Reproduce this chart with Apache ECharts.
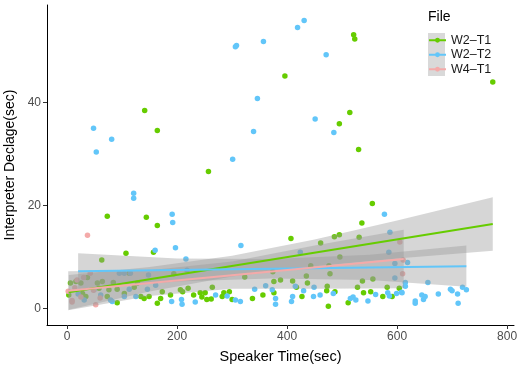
<!DOCTYPE html>
<html>
<head>
<meta charset="utf-8">
<script src="https://cdn.jsdelivr.net/npm/echarts@6/dist/echarts.min.js"></script>
<style>
  html, body { margin: 0; padding: 0; background: #fff; }
  #chart { width: 518px; height: 367px; }
</style>
</head>
<body>
<div id="chart"></div>
<script>
// scatter points [speaker time, interpreter declage]
const W2T1 = [
  [3,2.6],[6,4.9],[16,5.2],[25,4.9],[28,2.9],[34,2.3],[37,6.0],[55,4.9],[58,3.9],[63,9.4],
  [64,5.2],[73,17.9],[73,2.3],[76,3.6],[84,5.0],[91,3.7],[91,1.1],[104,2.9],[107,10.7],[113,6.8],
  [122,4.1],[128,4.9],[134,2.3],[140,1.9],[141,38.5],[144,17.7],[149,2.3],[157,10.9],[164,34.6],[164,16.1],
  [164,1.0],[170,1.9],[173,3.2],[188,2.6],[194,6.7],[206,3.6],[210,3.2],[220,3.9],[230,2.6],[242,3.0],
  [245,2.2],[251,3.0],[254,1.7],[257,26.6],[262,1.8],[264,4.1],[282,2.3],[285,3.0],[295,3.2],[300,1.7],
  [323,6.1],[337,1.9],[356,2.6],[374,7.1],[376,5.2],[376,3.0],[388,5.5],[396,45.2],[407,13.6],[410,5.3],
  [417,4.1],[427,2.3],[435,6.3],[437,4.9],[443,8.3],[461,12.7],[472,3.4],[473,4.3],[475,0.4],[476,8.3],
  [478,6.7],[486,13.9],[487,3.2],[495,14.3],[495,35.9],[496,10.0],[511,1.1],[514,38.1],[521,53.2],[523,52.4],
  [528,4.1],[530,30.9],[531,13.8],[536,16.6],[537,5.3],[539,3.0],[552,3.2],[555,20.4],[556,5.7],[574,2.3],
  [582,4.1],[591,2.3],[604,3.9],[774,44.0]
];
const W2T2 = [
  [20,2.8],[31,1.6],[48,35.0],[49,3.6],[53,30.4],[61,2.6],[79,1.6],[81,32.9],[82,1.3],[95,6.8],
  [104,6.8],[104,2.3],[113,3.7],[115,6.8],[121,22.4],[121,21.4],[125,2.3],[146,3.7],[148,6.5],[160,11.3],
  [161,4.5],[190,1.3],[191,18.3],[192,16.7],[197,11.8],[208,1.7],[209,0.8],[216,9.6],[218,7.4],[233,1.2],
  [270,2.6],[291,2.4],[301,29.0],[306,50.9],[306,1.6],[308,51.1],[315,1.3],[316,12.2],[339,34.4],[341,3.7],
  [346,40.8],[357,51.9],[361,4.4],[373,3.6],[379,1.9],[379,0.8],[408,1.3],[410,2.3],[415,4.3],[419,54.6],
  [424,10.9],[430,3.4],[431,56.0],[448,2.3],[449,4.1],[451,36.8],[460,2.6],[471,49.3],[484,2.9],[485,34.2],
  [515,1.9],[520,2.2],[525,1.6],[547,1.4],[561,2.7],[577,18.3],[583,3.0],[585,10.9],[586,2.4],[587,14.8],
  [596,8.7],[596,5.9],[599,2.9],[608,3.1],[609,3.0],[615,5.0],[615,4.3],[619,8.9],[633,1.4],[633,1.0],
  [645,2.6],[648,1.7],[651,2.3],[656,5.0],[675,2.8],[697,3.7],[700,3.4],[710,2.8],[711,1.0],[719,4.1],
  [726,3.6]
];
const W4T1 = [
  [2,3.3],[9,1.5],[9,1.2],[14,4.0],[18,5.5],[25,2.2],[30,6.0],[37,14.2],[42,6.8],[48,3.5],
  [52,0.7],[60,2.0],[605,12.9],[610,6.7],[611,9.4]
];

// lm fit lines (ends) and confidence bands
const W2T1_FIT = [[3,3.1],[774,16.4]];
const W2T2_FIT = [[20,7.2],[726,8.2]];
const W4T1_FIT = [[2,3.4],[612,9.6]];

const W2T1_BAND_X  = [3, 150, 300, 450, 600, 774];
const W2T1_BAND_LO = [-0.3, 3.25, 6.2, 8.2, 9.7, 11.2];
const W2T1_BAND_HI = [6.5, 8.03, 10.2, 13.4, 17.1, 21.6];

const W2T2_BAND_X  = [20, 200, 370, 550, 726];
const W2T2_BAND_LO = [3.7, 5.2, 5.8, 5.5, 4.2];
const W2T2_BAND_HI = [10.7, 9.7, 9.6, 10.4, 12.2];

const W4T1_BAND_X  = [2, 150, 300, 450, 612];
const W4T1_BAND_LO = [-0.4, 2.4, 3.8, 3.8, 3.9];
const W4T1_BAND_HI = [7.2, 7.4, 9.1, 12.2, 15.3];

const X_TICKS = [0, 200, 400, 600, 800];
const Y_TICKS = [0, 20, 40];

const GREEN = "#66CC00";
const BLUE  = "#62C6F9";
const PINK  = "#F4AAA9";
const BAND  = "rgba(153,153,153,0.4)";
const FONT  = "Liberation Sans, Arial, sans-serif";

const groups = [
  { name: "W2\u2013T1", color: GREEN, pts: W2T1, fit: W2T1_FIT, bx: W2T1_BAND_X, lo: W2T1_BAND_LO, hi: W2T1_BAND_HI },
  { name: "W2\u2013T2", color: BLUE,  pts: W2T2, fit: W2T2_FIT, bx: W2T2_BAND_X, lo: W2T2_BAND_LO, hi: W2T2_BAND_HI },
  { name: "W4\u2013T1", color: PINK,  pts: W4T1, fit: W4T1_FIT, bx: W4T1_BAND_X, lo: W4T1_BAND_LO, hi: W4T1_BAND_HI },
];

const chart = echarts.init(document.getElementById("chart"), null, { renderer: "canvas" });

// fit lines first so the legend takes its icon from them
const series = [];
groups.forEach(g => {
  series.push({
    name: g.name, type: "line", data: g.fit, z: 5,
    symbol: "circle", symbolSize: 5, showSymbol: false,
    lineStyle: { color: g.color, width: 2 }, itemStyle: { color: g.color },
    silent: true,
  });
});
groups.forEach(g => {
  series.push({
    name: g.name, type: "scatter", data: g.pts, z: 2,
    symbolSize: 5.5, itemStyle: { color: g.color, opacity: 1 },
  });
});
// confidence ribbons: one polygon per group, upper edge then lower edge back
groups.forEach(g => {
  series.push({
    type: "custom", z: 3, silent: true,
    data: g.bx.map((x, i) => [x, g.lo[i], g.hi[i]]),
    encode: { x: 0, y: [1, 2] },
    renderItem: (params, api) => {
      if (params.dataIndex !== 0) return;
      const top = g.bx.map((x, i) => api.coord([x, g.hi[i]]));
      const bot = g.bx.map((x, i) => api.coord([x, g.lo[i]])).reverse();
      return { type: "polygon", shape: { points: top.concat(bot) }, style: { fill: BAND } };
    },
  });
});

chart.setOption({
  animation: false,
  backgroundColor: "#fff",
  textStyle: { fontFamily: FONT },
  grid: { left: 47, right: 4, top: 5, bottom: 42, outerBoundsMode: "none" },
  title: {
    text: "File", left: 428, top: 10, padding: 0,
    textStyle: { fontSize: 14, fontWeight: "normal", color: "#000", fontFamily: FONT },
  },
  legend: {
    data: groups.map(g => g.name),
    orient: "vertical", left: 428, top: 33, padding: 0,
    itemWidth: 17, itemHeight: 6, itemGap: 0,
    textStyle: { fontSize: 12.5, lineHeight: 14.5, color: "#1a1a1a", fontFamily: FONT },
    selectedMode: false,
  },
  graphic: [
    { type: "rect", left: 428, top: 33, z: -1, shape: { width: 17, height: 43 }, style: { fill: "#D9D9D9" } },
  ],
  xAxis: {
    type: "value", min: -36.6, max: 812.6,
    splitLine: { show: false },
    axisLine: { onZero: false, lineStyle: { color: "#000", width: 1 } },
    axisTick: { customValues: X_TICKS, length: 4, lineStyle: { color: "#333" } },
    axisLabel: { customValues: X_TICKS, color: "#4d4d4d", fontSize: 12, margin: 6, fontFamily: FONT },
    name: "Speaker Time(sec)", nameLocation: "middle", nameGap: 24,
    nameTextStyle: { fontSize: 14.5, color: "#000", fontFamily: FONT },
  },
  yAxis: {
    type: "value", min: -3.25, max: 59,
    splitLine: { show: false },
    axisLine: { onZero: false, lineStyle: { color: "#000", width: 1 } },
    axisTick: { customValues: Y_TICKS, length: 4, lineStyle: { color: "#333" } },
    axisLabel: { customValues: Y_TICKS, color: "#4d4d4d", fontSize: 12, margin: 6, fontFamily: FONT },
    name: "Interpreter Declage(sec)", nameLocation: "middle", nameGap: 20,
    nameTextStyle: { fontSize: 14, color: "#000", fontFamily: FONT },
  },
  series,
});
</script>
</body>
</html>
